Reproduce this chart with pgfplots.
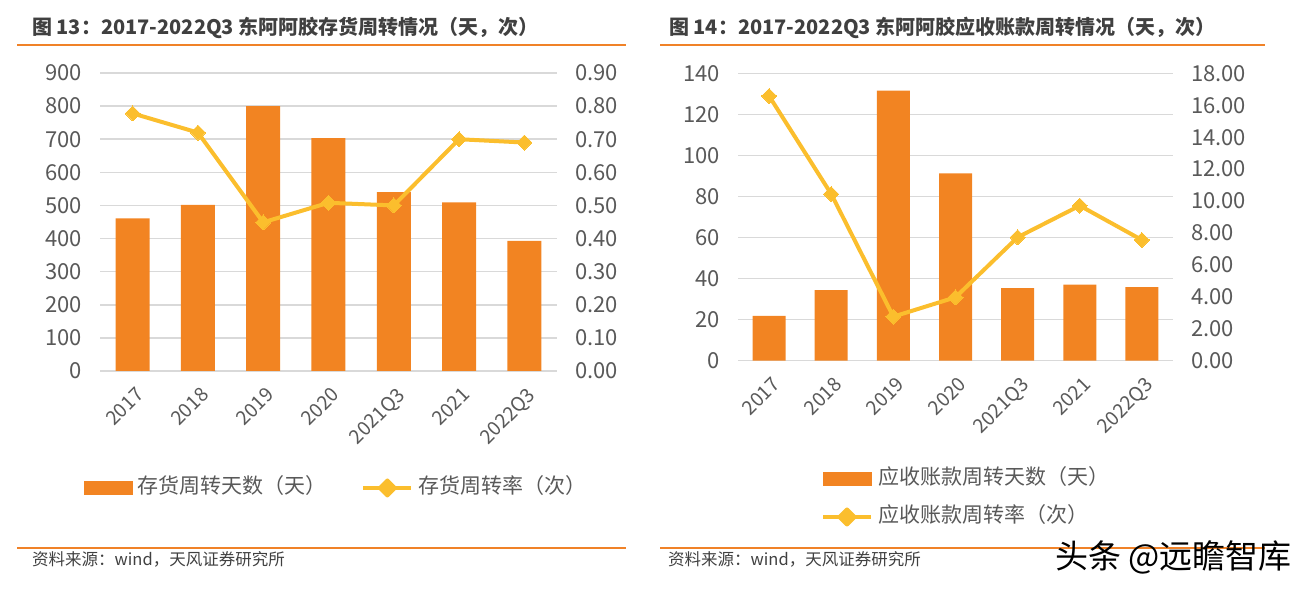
\documentclass[border=0pt]{standalone}
\usepackage{fontspec}
\setmainfont{Noto Sans CJK SC}
\usepackage{pgfplots}
\pgfplotsset{compat=1.18}
\definecolor{barc}{RGB}{242,132,34}
\definecolor{linec}{RGB}{251,190,45}
\definecolor{gridc}{RGB}{217,217,217}
\definecolor{tickc}{RGB}{89,89,89}
\definecolor{titlec}{RGB}{64,64,64}
\definecolor{rulec}{RGB}{240,130,40}
\newcommand{\fs}[1]{\fontsize{#1pt}{#1pt}\selectfont}
\pgfplotsset{
  base/.style={scale only axis, xmin=-0.5, xmax=6.5,
    axis line style={draw=none}, major tick length=0pt,
    tick label style={font=\fs{22}, text=tickc},
    /pgf/number format/assume math mode=true,
    scaled y ticks=false, clip=false},
  leftax/.style={base, ymajorgrids, grid style={gridc, line width=1.5pt},
    xtick={0,...,6},
    xticklabels={2017,2018,2019,2020,2021Q3,2021,2022Q3},
    xticklabel style={font=\fs{19.5}, inner sep=0pt, xshift=2pt, yshift=-15pt, rotate=45, anchor=north east},
    yticklabel style={anchor=east, inner sep=0pt, xshift=-18pt}},
  rightax/.style={base, xtick=\empty, yticklabel pos=right,
    yticklabel style={anchor=west, inner sep=0pt, xshift=18pt,
      /pgf/number format/.cd, fixed, fixed zerofill, precision=2}},
  barleg/.style={legend image code/.code={\fill[barc] (0pt,-6.5pt) rectangle (48pt,6.5pt);}},
  lineleg/.style={legend image code/.code={\draw[linec,line width=4pt] (0pt,0pt) -- (48pt,0pt);
      \fill[linec] (16.5pt,0pt) -- (24pt,7.5pt) -- (31.5pt,0pt) -- (24pt,-7.5pt) -- cycle;}},
  legbase/.style={legend style={draw=none, fill=none, inner sep=0pt, outer sep=0pt,
      legend cell align=left, font=\fs{21}, text=tickc,
      nodes={inner sep=0pt, text height=16pt, text depth=5pt},
      /tikz/every odd column/.append style={column sep=5pt}}},
  serline/.style={linec, line width=4pt, line join=round, mark=square*,
      mark size=5.3pt, mark options={rotate=45, fill=linec, draw=linec, line width=0pt}},
}
\begin{document}
\begin{tikzpicture}
\useasboundingbox (0,0) rectangle (1315pt,594pt);
% ---------- titles and rules
\node[anchor=base west, inner sep=0pt, font=\fs{20}\bfseries, text=titlec] at (32pt,559.5pt)
  {图 13：2017-2022Q3 东阿阿胶存货周转情况（天，次）};
\node[anchor=base west, inner sep=0pt, font=\fs{20}\bfseries, text=titlec] at (669pt,559.5pt)
  {图 14：2017-2022Q3 东阿阿胶应收账款周转情况（天，次）};
\draw[rulec, line width=1.3pt] (17pt,549pt) -- (626pt,549pt);
\draw[rulec, line width=2.5pt] (17pt,549pt) -- (30pt,549pt);
\draw[rulec, line width=1.3pt] (660pt,549pt) -- (1265pt,549pt);
\draw[rulec, line width=2.5pt] (660pt,549pt) -- (668pt,549pt);
\draw[rulec, line width=2pt] (17pt,46pt) -- (626pt,46pt);
\draw[rulec, line width=2pt] (660pt,46pt) -- (1265pt,46pt);
\node[anchor=base west, inner sep=0pt, font=\fs{16.5}, text=titlec] at (32pt,28pt)
  {资料来源：wind，天风证券研究所};
\node[anchor=base west, inner sep=0pt, font=\fs{16.5}, text=titlec] at (668pt,28pt)
  {资料来源：wind，天风证券研究所};

% ---------- left chart
\begin{axis}[leftax, at={(100pt,223pt)}, anchor=south west, width=457pt, height=298pt,
  ymin=0, ymax=900, ytick={0,100,200,300,400,500,600,700,800,900}, ybar, bar width=34pt]
\addplot[fill=barc, draw=none] coordinates {(0,461) (1,502) (2,800) (3,703) (4,540) (5,509) (6,393)};
\end{axis}
\begin{axis}[rightax, at={(100pt,223pt)}, anchor=south west, width=457pt, height=298pt,
  ymin=0, ymax=0.9, ytick={0,0.1,0.2,0.3,0.4,0.5,0.6,0.7,0.8,0.9},
  legbase, legend columns=2,
  legend style={at={(-0.035,-0.3926)}, anchor=west,
    /tikz/every even column/.append style={column sep=35pt}}]
\addlegendimage{barleg}
\addlegendentry{存货周转天数（天）}
\addplot[serline, lineleg] coordinates {(0,0.778) (1,0.720) (2,0.449) (3,0.508) (4,0.500) (5,0.700) (6,0.690)};
\addlegendentry{存货周转率（次）}
\end{axis}

% ---------- right chart
\begin{axis}[leftax, at={(738pt,233.3pt)}, anchor=south west, width=435pt, height=287.4pt,
  ymin=0, ymax=140, ytick={0,20,40,60,80,100,120,140}, ybar, bar width=33pt]
\addplot[fill=barc, draw=none] coordinates {(0,21.8) (1,34.4) (2,131.5) (3,91.3) (4,35.3) (5,37.0) (6,35.8)};
\end{axis}
\begin{axis}[rightax, at={(738pt,233.3pt)}, anchor=south west, width=435pt, height=287.4pt,
  ymin=0, ymax=18, ytick={0,2,4,6,8,10,12,14,16,18},
  legbase, legend columns=1,
  legend style={at={(0.1908,-0.4777)}, anchor=west, row sep=17pt}]
\addlegendimage{barleg}
\addlegendentry{应收账款周转天数（天）}
\addplot[serline, lineleg] coordinates {(0,16.58) (1,10.44) (2,2.76) (3,3.97) (4,7.73) (5,9.71) (6,7.56)};
\addlegendentry{应收账款周转率（次）}
\end{axis}

% ---------- watermark
\node[anchor=base west, inner sep=0pt, font=\fs{33}, text=black] at (1055pt,25pt) {头条 @远瞻智库};
\end{tikzpicture}
\end{document}
